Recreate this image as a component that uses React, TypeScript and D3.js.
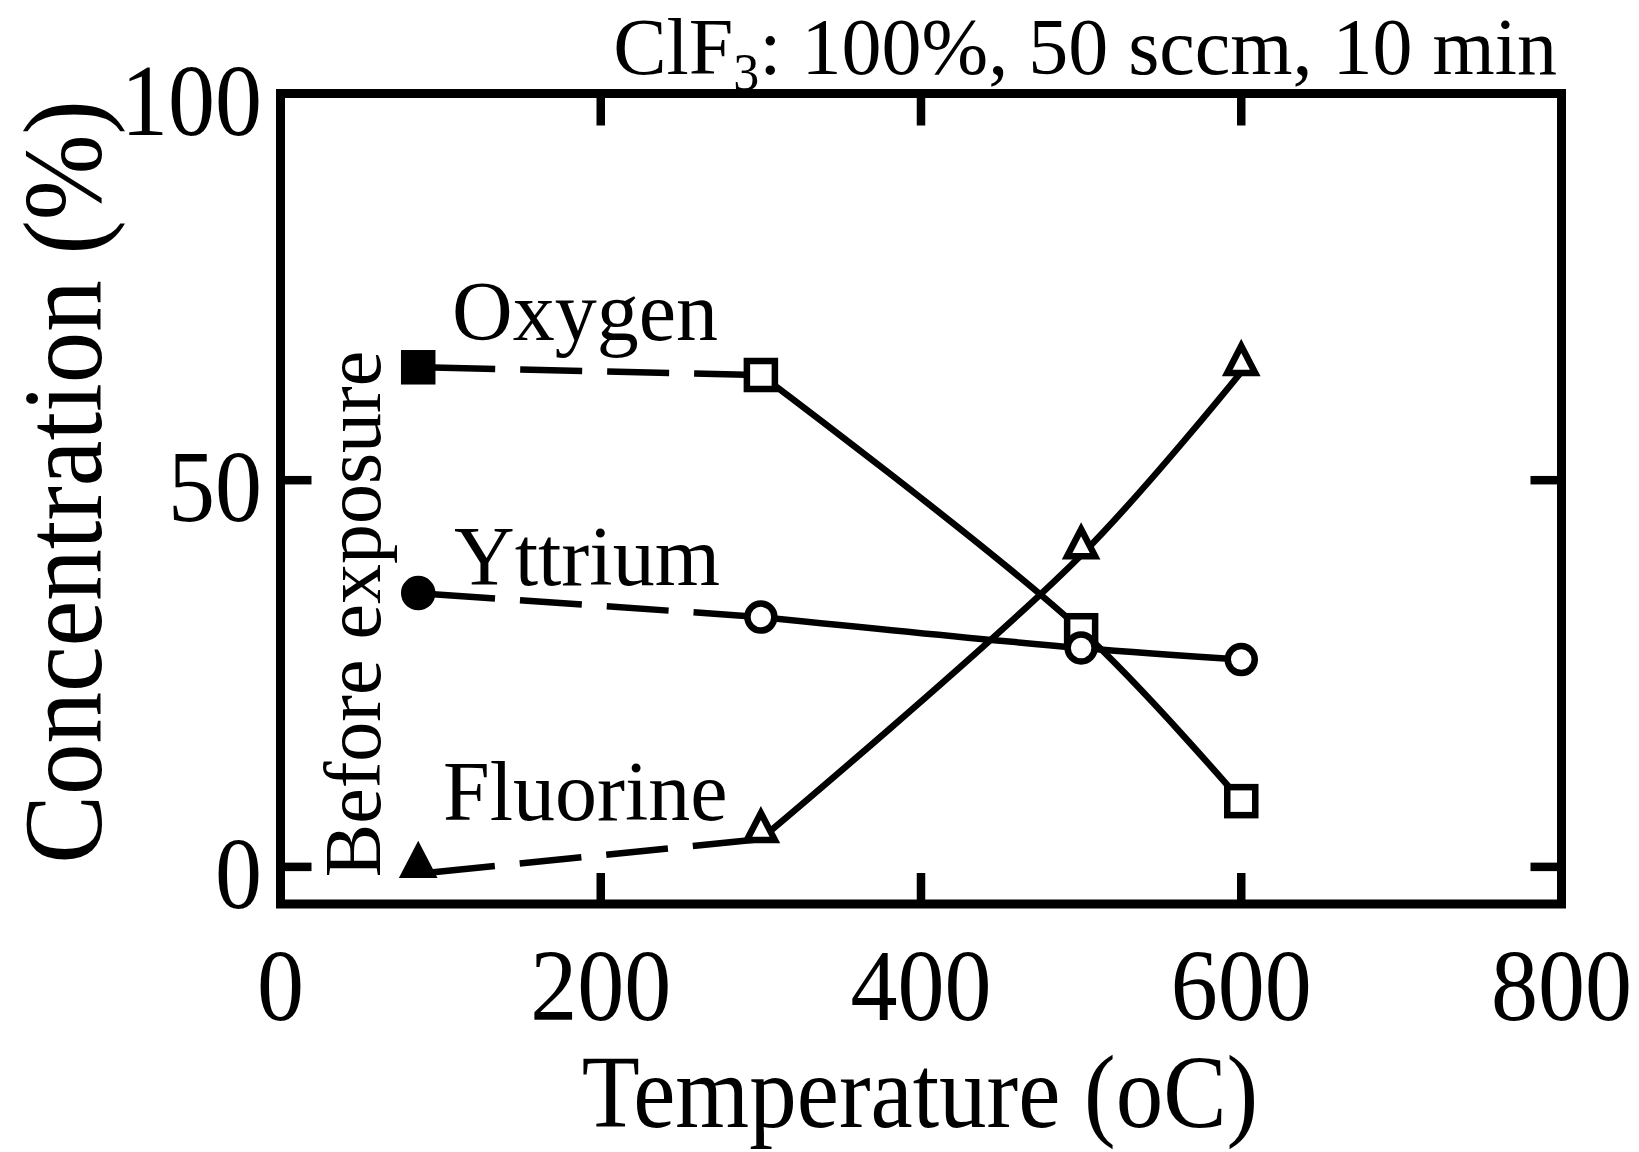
import React from 'react';
import * as d3 from 'd3';

// Axis ticks
const temperatureTicks = [0, 200, 400, 600, 800];
const concentrationTicks = [0, 50, 100];
const innerTempTicks = [200, 400, 600];
const innerConcTicks = [0, 50];

// Sample measured before exposure (drawn at this temperature position)
const beforeExposureTemp = 86;
// Exposure temperatures (oC)
const exposureTemps = [300, 500, 600];

// Surface concentrations (%)
const oxygenBefore = 64.6;
const oxygenValues = [63.6, 30.6, 8.5];
const yttriumBefore = 35.4;
const yttriumValues = [32.3, 28.3, 26.8];
const fluorineBefore = -0.9;
const fluorineValues = [3.6, 40.3, 64.0];

const W = 1639;
const H = 1152;
const FONT = '"Liberation Serif", "Times New Roman", Times, serif';

const xScale = d3.scaleLinear().domain([0, 800]).range([280.5, 1561.5]);
const yScale = d3.scaleLinear().domain([-4.8, 100]).range([904, 93.5]);

const straight = d3.line<[number, number]>();
const smooth = d3.line<[number, number]>().curve(d3.curveCatmullRom.alpha(0.5));

const LINE_W = 6.5;

type Marker = 'square' | 'circle' | 'triangle';

function markerShape(kind: Marker, cx: number, cy: number, filled: boolean, key: string) {
  const common = {
    fill: filled ? '#000' : '#fff',
    stroke: '#000',
    strokeWidth: 6.5,
  };
  if (kind === 'square') {
    return <rect key={key} x={cx - 14} y={cy - 14} width={28} height={28} {...common} />;
  }
  if (kind === 'circle') {
    return <circle key={key} cx={cx} cy={cy} r={filled ? 14 : 13.5} {...common} />;
  }
  const p = `M${cx},${cy - 26}L${cx + 14},${cy + 1}L${cx - 14},${cy + 1}Z`;
  return <path key={key} d={p} {...common} strokeLinejoin="miter" />;
}

const seriesList: { name: string; before: number; values: number[]; marker: Marker }[] = [
  { name: 'Oxygen', before: oxygenBefore, values: oxygenValues, marker: 'square' },
  { name: 'Yttrium', before: yttriumBefore, values: yttriumValues, marker: 'circle' },
  { name: 'Fluorine', before: fluorineBefore, values: fluorineValues, marker: 'triangle' },
];

export default function App() {
  const left = xScale.range()[0];
  const right = xScale.range()[1];
  const bottom = yScale.range()[0];
  const top = yScale.range()[1];

  return (
    <svg
      width={W}
      height={H}
      viewBox={`0 0 ${W} ${H}`}
      style={{ position: 'absolute', left: 0, top: 0, background: '#fff' }}
      fontFamily={FONT}
    >
      <rect x={0} y={0} width={W} height={H} fill="#fff" />

      {/* connecting lines */}
      {seriesList.map((s) => {
        const bx = xScale(beforeExposureTemp);
        const by = yScale(s.before);
        const pts: [number, number][] = exposureTemps.map((t, i) => [xScale(t), yScale(s.values[i])]);
        return (
          <g key={`l-${s.name}`} fill="none" stroke="#000" strokeWidth={LINE_W}>
            <path
              d={straight([[bx, by], pts[0]]) || ''}
              strokeDasharray="62 25"
              strokeDashoffset={-15}
            />
            <path d={smooth(pts) || ''} />
          </g>
        );
      })}

      {/* markers */}
      {seriesList.map((s) => (
        <g key={`m-${s.name}`}>
          {markerShape(s.marker, xScale(beforeExposureTemp), yScale(s.before), true, 'b')}
          {exposureTemps.map((t, i) =>
            markerShape(s.marker, xScale(t), yScale(s.values[i]), false, `o${i}`)
          )}
        </g>
      ))}

      {/* frame */}
      <rect
        x={left}
        y={top}
        width={right - left}
        height={bottom - top}
        fill="none"
        stroke="#000"
        strokeWidth={9}
      />

      {/* ticks */}
      <g stroke="#000" strokeWidth={8.5}>
        {innerTempTicks.map((t) => (
          <g key={`xt-${t}`}>
            <line x1={xScale(t)} x2={xScale(t)} y1={bottom} y2={bottom - 31} />
            <line x1={xScale(t)} x2={xScale(t)} y1={top} y2={top + 32} />
          </g>
        ))}
        {innerConcTicks.map((t) => (
          <g key={`yt-${t}`}>
            <line x1={left} x2={left + 31} y1={yScale(t)} y2={yScale(t)} />
            <line x1={right} x2={right - 31} y1={yScale(t)} y2={yScale(t)} />
          </g>
        ))}
      </g>

      {/* tick labels */}
      <g fontSize={94} fill="#000">
        {temperatureTicks.map((t) => (
          <text
            key={`xl-${t}`}
            transform={`translate(${xScale(t)},1020) scale(1,1.08)`}
            textAnchor="middle"
          >
            {t}
          </text>
        ))}
        {concentrationTicks.map((t) => (
          <text
            key={`yl-${t}`}
            transform={`translate(262,${yScale(t) + 41}) scale(1,1.08)`}
            textAnchor="end"
          >
            {t}
          </text>
        ))}
      </g>

      {/* axis titles */}
      <text transform="translate(920,1127) scale(1,1.1)" fontSize={95} textAnchor="middle">
        Temperature (oC)
      </text>
      <text
        transform="translate(101,482) scale(1.08,1) rotate(-90)"
        fontSize={103}
        textAnchor="middle"
      >
        Concentration (%)
      </text>

      {/* condition note */}
      <text x={1557} y={74} fontSize={80} textAnchor="end">
        ClF
        <tspan fontSize={52} dy={16}>3</tspan>
        <tspan dy={-16}>: 100%, 50 sccm, 10 min</tspan>
      </text>

      {/* series labels */}
      <g fontSize={84}>
        <text x={452} y={340}>Oxygen</text>
        <text x={454} y={585}>Yttrium</text>
        <text x={443} y={820}>Fluorine</text>
      </g>
      <text transform="translate(380,614) rotate(-90)" fontSize={80} textAnchor="middle">
        Before exposure
      </text>
    </svg>
  );
}
